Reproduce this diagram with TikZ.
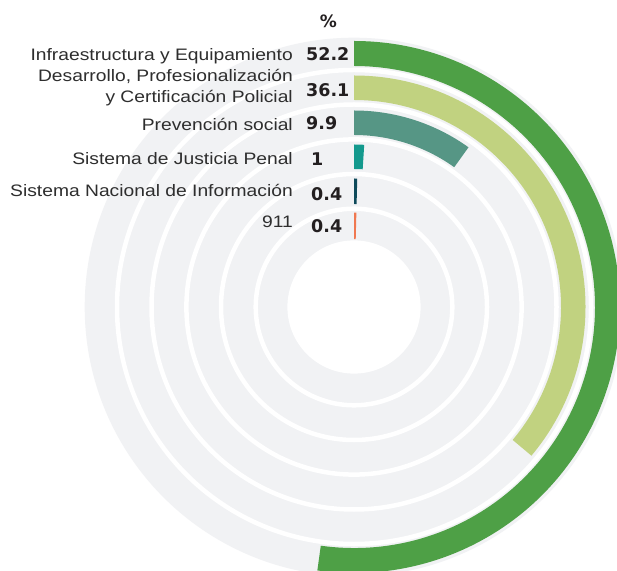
\documentclass[tikz,border=0pt]{standalone}
\usepackage{fontspec}
\setmainfont{Liberation Sans}
\newfontfamily\labelfont[FakeStretch=1.16]{Liberation Sans}
\newfontfamily\numfont{DejaVu Sans}
\definecolor{ringgrey}{HTML}{F1F2F4}
\definecolor{cGreen}{HTML}{4EA046}
\definecolor{cLight}{HTML}{C1D280}
\definecolor{cTeal}{HTML}{569685}
\definecolor{cJust}{HTML}{13998D}
\definecolor{cDark}{HTML}{0E4A5A}
\definecolor{cOrange}{HTML}{F07850}
\definecolor{labelgrey}{HTML}{2E2E2E}
\definecolor{numblack}{HTML}{231F20}
\tikzset{
  lab/.style={anchor=base east, inner sep=0pt, text=labelgrey, font=\labelfont\fontsize{16.6}{19}\selectfont},
  num/.style={anchor=base west, inner sep=0pt, text=numblack, font=\numfont\bfseries\fontsize{17.5}{20}\selectfont},
  sep/.style={draw=white, line width=4.5pt}
}
\newcommand{\radbar}[4]{% color, inner r, outer r, percent
  \fill[#1] ([shift={(90:#3)}]C) arc[start angle=90, end angle={90-3.6*#4}, radius=#3]
    -- ([shift={({90-3.6*#4}:#2)}]C) arc[start angle={90-3.6*#4}, end angle=90, radius=#2] -- cycle;}
\begin{document}
\begin{tikzpicture}[x=1pt,y=1pt]
\useasboundingbox (0,0) rectangle (617,570);
\fill[white] (0,0) rectangle (617,570);
\begin{scope}
\clip (0,0) rectangle (617,570);
\coordinate (C) at (354,263);
\fill[ringgrey] (C) circle[radius=269.3];
\foreach \r in {98.3,133,167.6,202.5,237} \draw[sep] (C) circle[radius=\r];
\fill[white] (C) circle[radius=66.6];
\radbar{cGreen}{241}{266}{52.2}
\radbar{cLight}{207}{231.5}{36.1}
\radbar{cTeal}{172}{196.5}{9.9}
\radbar{cJust}{138}{162.5}{1}
\radbar{cDark}{103}{128.5}{0.4}
\radbar{cOrange}{68}{94.3}{0.4}
\end{scope}
\node[num, anchor=center, font=\numfont\bfseries\fontsize{17}{20}\selectfont] (pct) at (328.5,548.5) {\%};
\node[lab] (l1) at (293,509) {Infraestructura y Equipamiento};
\node[lab] (l2a) at (293,488) {Desarrollo, Profesionalización};
\node[lab] (l2b) at (293,467) {y Certificación Policial};
\node[lab] (l3) at (293,439) {Prevención social};
\node[lab] (l4) at (293,405) {Sistema de Justicia Penal};
\node[lab] (l5) at (293,373) {Sistema Nacional de Información};
\node[lab] (l6) at (293,342) {911};
\node[num] (n1) at (306,509) {52.2};
\node[num] (n2) at (306,473.3) {36.1};
\node[num] (n3) at (306,440) {9.9};
\node[num] (n4) at (311,404.3) {1};
\node[num] (n5) at (311,369.3) {0.4};
\node[num] (n6) at (311,337) {0.4};
\end{tikzpicture}
\end{document}
